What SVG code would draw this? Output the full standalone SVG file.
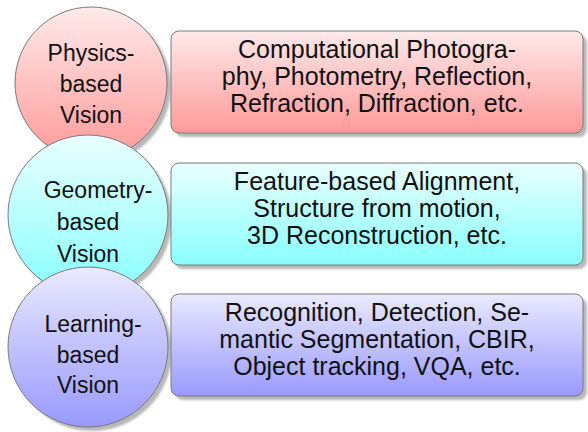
<svg xmlns="http://www.w3.org/2000/svg" width="588" height="432" viewBox="0 0 588 432">
<defs>
<linearGradient id="gRed" x1="0" y1="0" x2="0" y2="1"><stop offset="0" stop-color="#ffeaea"/><stop offset="1" stop-color="#ff9999"/></linearGradient>
<linearGradient id="gCyan" x1="0" y1="0" x2="0" y2="1"><stop offset="0" stop-color="#eaffff"/><stop offset="1" stop-color="#88ffff"/></linearGradient>
<linearGradient id="gBlue" x1="0" y1="0" x2="0" y2="1"><stop offset="0" stop-color="#eaeaff"/><stop offset="1" stop-color="#9999ff"/></linearGradient>
<filter id="soft" x="-10%" y="-10%" width="120%" height="120%"><feGaussianBlur stdDeviation="0.8"/></filter>
</defs>
<style>
.sh{fill:#b8b8b8;filter:url(#soft)}
.shape{stroke:#7a7a7a;stroke-width:1}
text{font-family:"Liberation Sans",Arial,sans-serif;fill:#111;text-anchor:middle}
.ct{font-size:23px}
.bt{font-size:25px}
</style>
<rect width="588" height="432" fill="#fff"/>
<g id="physics-circle">
<circle class="sh" cx="95" cy="87" r="76"/>
<circle class="shape" cx="91" cy="83" r="76" fill="url(#gRed)"/>
<text class="ct" x="91" y="61">Physics-</text>
<text class="ct" x="91" y="92">based</text>
<text class="ct" x="91" y="123">Vision</text>
</g>
<g id="geometry-circle">
<circle class="sh" cx="92" cy="219" r="80"/>
<circle class="shape" cx="88" cy="215" r="80" fill="url(#gCyan)"/>
<text class="ct" x="98" y="198">Geometry-</text>
<text class="ct" x="88" y="230">based</text>
<text class="ct" x="88" y="262">Vision</text>
</g>
<g id="learning-circle">
<circle class="sh" cx="92" cy="351" r="80"/>
<circle class="shape" cx="88" cy="347" r="80" fill="url(#gBlue)"/>
<text class="ct" x="93" y="332">Learning-</text>
<text class="ct" x="88" y="363">based</text>
<text class="ct" x="88" y="393">Vision</text>
</g>
<g id="physics-box">
<rect class="sh" x="175" y="35" width="412" height="102" rx="8"/>
<rect class="shape" x="171" y="31" width="412" height="102" rx="8" fill="url(#gRed)"/>
<text class="bt" x="377" y="58">Computational Photogra-</text>
<text class="bt" x="377" y="85">phy, Photometry, Reflection,</text>
<text class="bt" x="377" y="112">Refraction, Diffraction, etc.</text>
</g>
<g id="geometry-box">
<rect class="sh" x="175" y="167" width="412" height="102" rx="8"/>
<rect class="shape" x="171" y="163" width="412" height="102" rx="8" fill="url(#gCyan)"/>
<text class="bt" x="377" y="190">Feature-based Alignment,</text>
<text class="bt" x="377" y="217">Structure from motion,</text>
<text class="bt" x="377" y="244">3D Reconstruction, etc.</text>
</g>
<g id="learning-box">
<rect class="sh" x="175" y="298" width="412" height="102" rx="8"/>
<rect class="shape" x="171" y="294" width="412" height="102" rx="8" fill="url(#gBlue)"/>
<text class="bt" x="377" y="321">Recognition, Detection, Se-</text>
<text class="bt" x="377" y="348">mantic Segmentation, CBIR,</text>
<text class="bt" x="377" y="375">Object tracking, VQA, etc.</text>
</g>
</svg>
